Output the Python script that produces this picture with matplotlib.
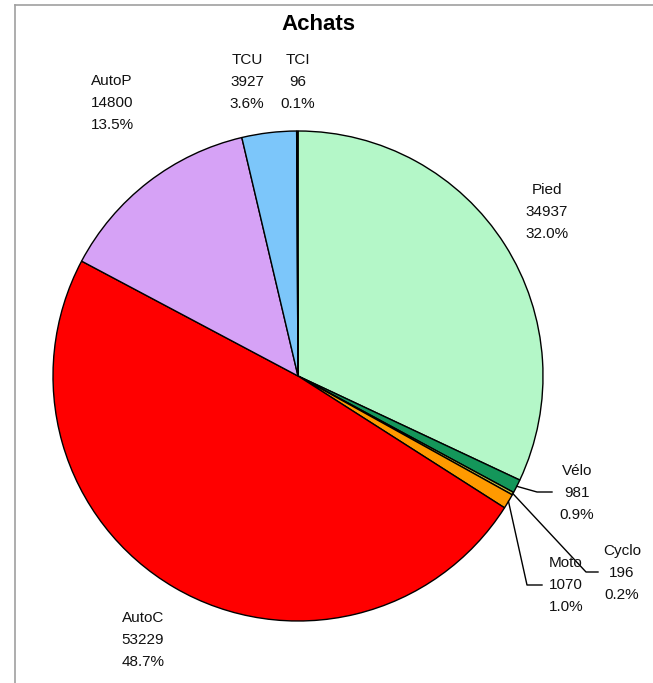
import numpy as np
import matplotlib
matplotlib.use("Agg")
import matplotlib.pyplot as plt
from matplotlib.lines import Line2D

plt.rcParams['font.family'] = ['Liberation Sans', 'DejaVu Sans']

# trips by mode (purchases)
modes = ['Pied', 'Vélo', 'Cyclo', 'Moto', 'AutoC', 'AutoP', 'TCU', 'TCI']
counts = [34937, 981, 196, 1070, 53229, 14800, 3927, 96]
colors = ['#b4f7c8', '#14965a', '#c8c03c', '#ff9a00', '#ff0000',
          '#d6a2f6', '#7cc6fa', '#203080']

W, H = 653, 683
CX, CY, R = 298, 376, 245   # pie centre / radius in pixels


def px(x, y):
    # pixel position -> data units (pie radius = 1)
    return (x - CX) / R, (CY - y) / R


# label centres (pixels)
label_pos = {
    'Pied': (547, 212), 'Vélo': (577, 493), 'Cyclo': (622, 573),
    'Moto': (566, 585), 'AutoC': (143, 640), 'AutoP': (112, 103),
    'TCU': (247, 82), 'TCI': (298, 82),
}
# elbow points of the leader lines for the small slices (pixels)
leader = {
    'Vélo': [(537, 492), (552, 492)],
    'Cyclo': [(586, 572), (598, 572)],
    'Moto': [(527, 585), (542, 585)],
}

fig = plt.figure(figsize=(W / 100, H / 100), dpi=100)
ax = fig.add_axes([0, 0, 1, 1])

wedges, _ = ax.pie(counts, colors=colors, startangle=90, counterclock=False,
                   radius=1, wedgeprops=dict(edgecolor='black', linewidth=1))

ax.set_xlim(px(0, 0)[0], px(W, 0)[0])
ax.set_ylim(px(0, H)[1], px(0, 0)[1])
ax.set_aspect('auto')
ax.axis('off')

total = sum(counts)
for w, name, n in zip(wedges, modes, counts):
    x, y = px(*label_pos[name])
    ax.text(x, y, f"{name}\n{n}\n{100 * n / total:.1f}%", ha='center',
            va='center', fontsize=11, linespacing=1.75, color='#111111')
    if name in leader:
        mid = np.deg2rad((w.theta1 + w.theta2) / 2)
        pts = [(np.cos(mid), np.sin(mid))] + [px(*p) for p in leader[name]]
        xs, ys = zip(*pts)
        ax.plot(xs, ys, color='black', lw=1)

ax.text(*px(318, 25), 'Achats', ha='center', va='center',
        fontsize=16, fontweight='bold')

# frame lines on the top and left edges
fig.add_artist(Line2D([15 / W, 1], [1 - 5 / H] * 2, color='#a0a0a0', lw=1.2))
fig.add_artist(Line2D([15 / W] * 2, [0, 1 - 5 / H], color='#a0a0a0', lw=1.2))

fig.savefig('out.png', dpi=100)
